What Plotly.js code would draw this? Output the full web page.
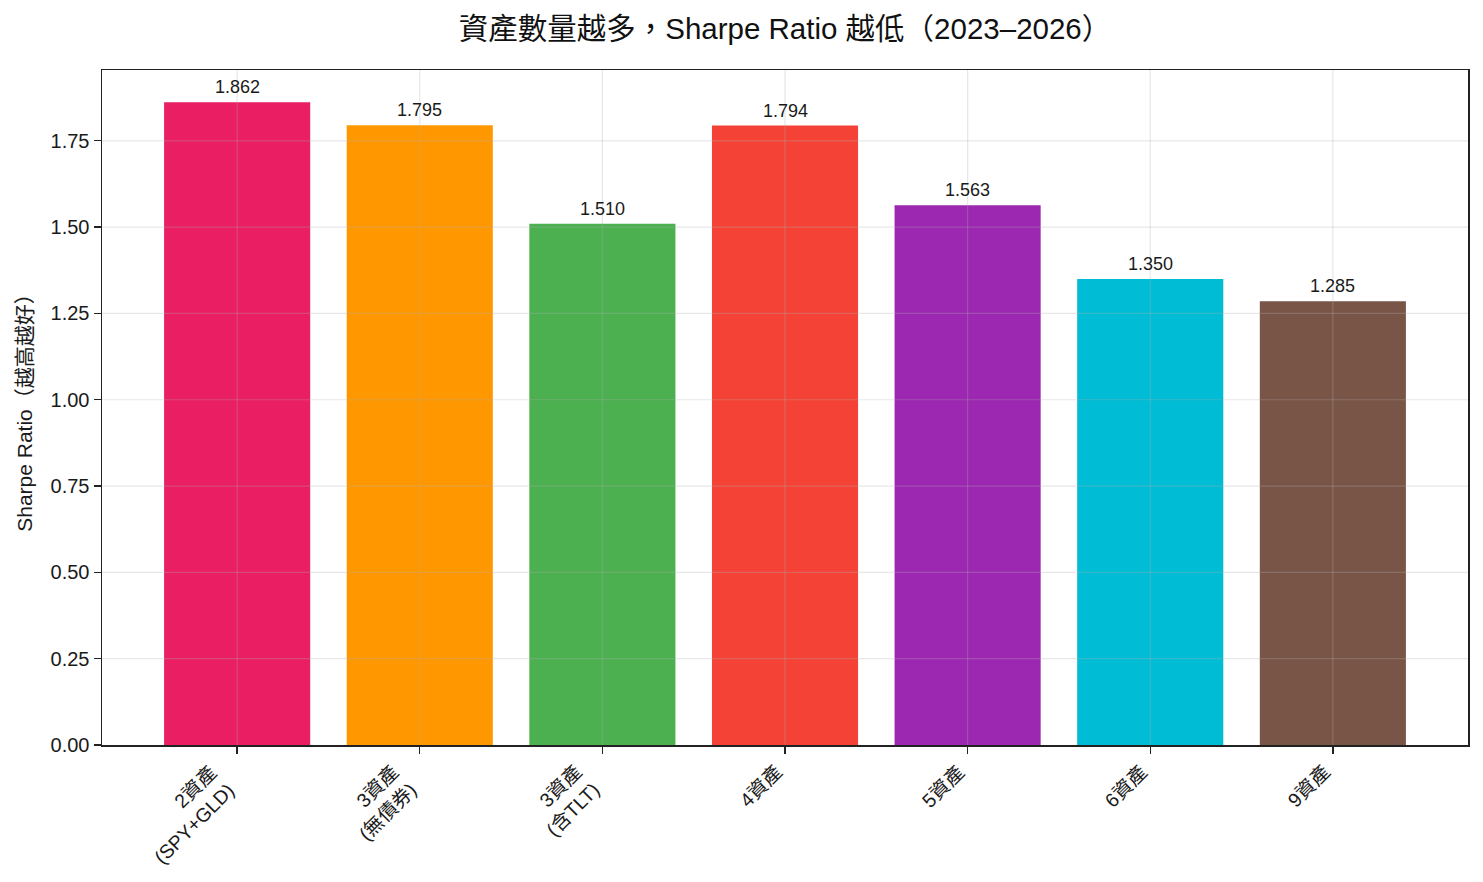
<!DOCTYPE html>
<html>
<head>
<meta charset="utf-8">
<script src="https://cdn.plot.ly/plotly-3.0.1.min.js"></script>
<style>
  html, body { margin: 0; padding: 0; background: #ffffff; }
  #chart { width: 1483px; height: 882px; }
</style>
</head>
<body>
<div id="chart"></div>
<script>
// Portfolio variants and their Sharpe ratios (2023–2026)
const categories = [
  '2資產<br>(SPY+GLD)',
  '3資產<br>(無債券)',
  '3資產<br>(含TLT)',
  '4資產',
  '5資產',
  '6資產',
  '9資產'
];
const sharpe = [1.862, 1.795, 1.510, 1.794, 1.563, 1.350, 1.285];
const barColors = ['#E91E63', '#FF9800', '#4CAF50', '#F44336', '#9C27B0', '#00BCD4', '#795548'];
const yTicks = [0, 0.25, 0.5, 0.75, 1.0, 1.25, 1.5, 1.75];

const FONT = '"Liberation Sans", "Noto Sans CJK TC", sans-serif';
const gridColor = 'rgba(176,176,176,0.3)';

const idx = categories.map((_, i) => i);
const yMax = Math.max(...sharpe) * 1.05;

const trace = {
  type: 'bar',
  x: idx,
  y: sharpe,
  width: 0.8,
  marker: { color: barColors, line: { width: 0 } },
  hoverinfo: 'x+y'
};

// value labels above each bar
const valueLabels = sharpe.map((v, i) => ({
  x: i, y: v, xref: 'x', yref: 'y',
  text: v.toFixed(3),
  showarrow: false,
  yanchor: 'bottom',
  yshift: 3,
  font: { family: FONT, size: 18, color: '#1a1a1a' }
}));

// rotated, right-aligned category labels under each tick
const catLabels = categories.map((c, i) => ({
  x: i, y: 0, xref: 'x', yref: 'paper',
  text: c,
  showarrow: false,
  textangle: -45,
  align: 'right',
  xanchor: 'right',
  yanchor: 'top',
  yshift: -13,
  xshift: 4,
  font: { family: FONT, size: 19.5, color: '#1a1a1a' }
}));

// grid drawn over the bars
const shapes = [];
yTicks.slice(1).forEach(t => shapes.push({
  type: 'line', xref: 'paper', yref: 'y', x0: 0, x1: 1, y0: t, y1: t,
  line: { color: gridColor, width: 1.2 }, layer: 'above'
}));
idx.forEach(i => shapes.push({
  type: 'line', xref: 'x', yref: 'paper', x0: i, x1: i, y0: 0, y1: 1,
  line: { color: gridColor, width: 1.2 }, layer: 'above'
}));

const layout = {
  width: 1483,
  height: 882,
  margin: { l: 102, r: 15, t: 70, b: 137 },
  paper_bgcolor: '#ffffff',
  plot_bgcolor: '#ffffff',
  font: { family: FONT, color: '#1a1a1a' },
  title: {
    text: '資產數量越多，Sharpe Ratio 越低（2023–2026）',
    font: { family: FONT, size: 29.5, color: '#111111' },
    x: 0.5, xref: 'paper', xanchor: 'center', y: 0.967, yanchor: 'middle'
  },
  xaxis: {
    range: [-0.74, 6.74],
    tickmode: 'array',
    tickvals: idx,
    showticklabels: false,
    ticks: 'outside', ticklen: 7, tickwidth: 1.3, tickcolor: '#222',
    showgrid: false, zeroline: false,
    showline: true, linecolor: '#222', linewidth: 1.5, mirror: true
  },
  yaxis: {
    range: [0, yMax],
    tickmode: 'array',
    tickvals: yTicks,
    ticktext: yTicks.map(t => t.toFixed(2)),
    ticks: 'outside', ticklen: 7, tickwidth: 1.3, tickcolor: '#222',
    showgrid: false, zeroline: false,
    showline: true, linecolor: '#222', linewidth: 1.5, mirror: true,
    tickfont: { family: FONT, size: 20, color: '#1a1a1a' },
    title: { text: 'Sharpe Ratio（越高越好）', font: { family: FONT, size: 21, color: '#1a1a1a' }, standoff: 12 }
  },
  annotations: valueLabels.concat(catLabels),
  shapes: shapes,
  showlegend: false
};

Plotly.newPlot('chart', [trace], layout, { displayModeBar: false, staticPlot: true });
</script>
</body>
</html>
